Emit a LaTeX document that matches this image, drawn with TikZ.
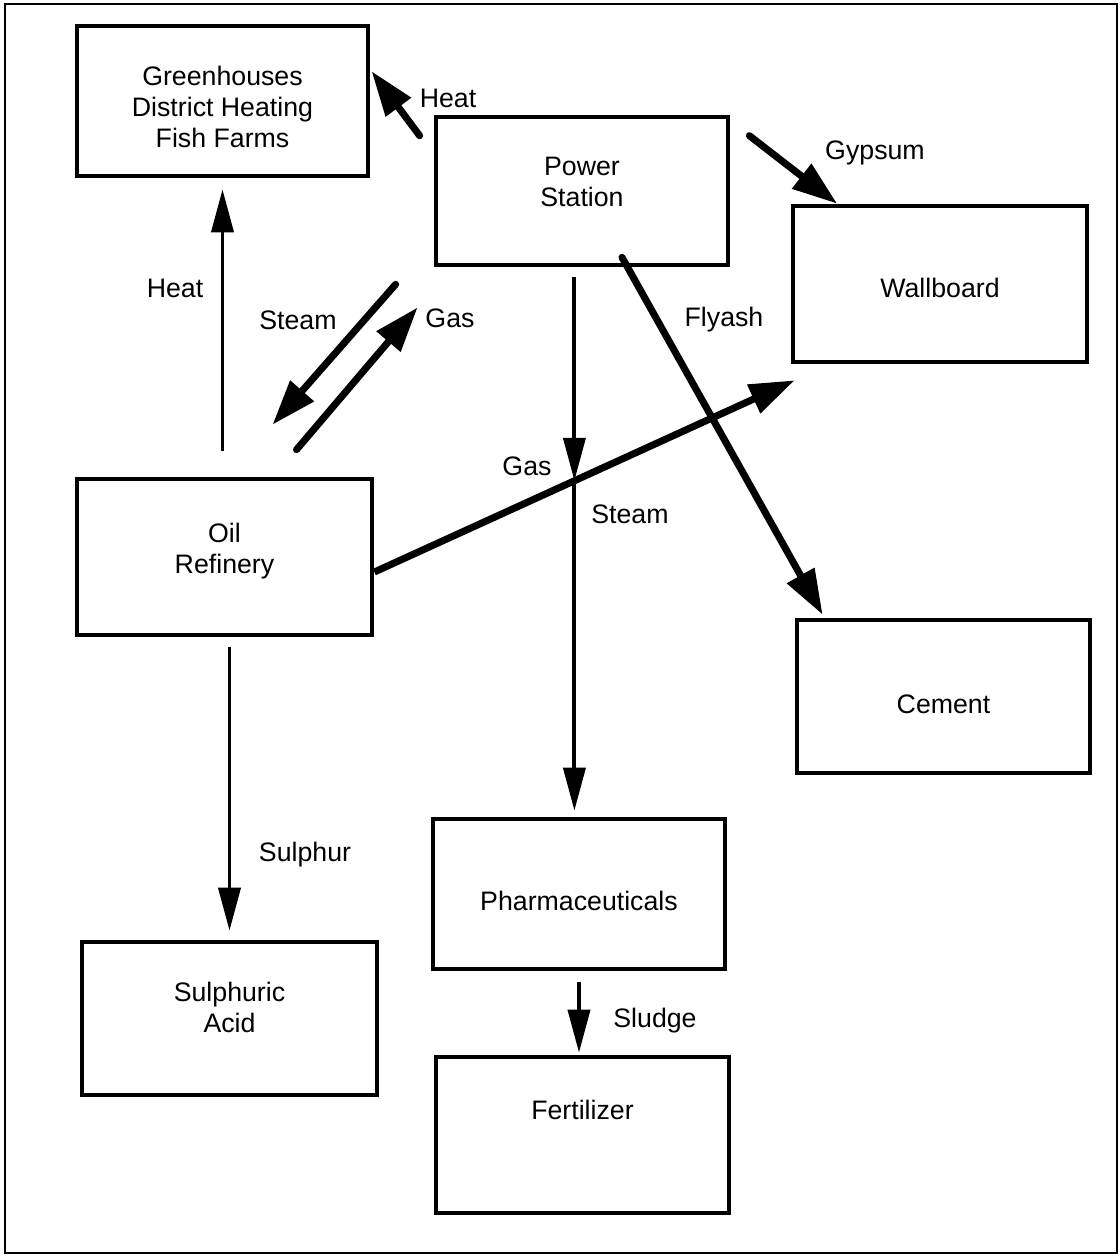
\documentclass[tikz,border=0pt]{standalone}
\usepackage{fontspec}
\setmainfont{Liberation Sans}
\usetikzlibrary{arrows.meta,calc}
\newcommand{\boxtext}[2]{\raisebox{#1}[\height][\depth]{\begin{tabular}{@{}c@{}}#2\end{tabular}}}
\begin{document}
\begin{tikzpicture}[x=0.01cm,y=-0.01cm,
  every node/.style={font=\fontsize{7.6}{8.8}\selectfont},
  unit/.style={draw,line width=1.3pt,minimum width=2.93cm,minimum height=1.53cm,align=center,inner sep=0pt},
  flow/.style={line width=1.1pt,-{Triangle[length=0.43cm,width=0.22cm]}},
  bigflow/.style={line width=2pt,line cap=round,-{Triangle[length=0.45cm,width=0.3cm]}}]
\useasboundingbox (0,0) rectangle (1120,1256);
\draw[line width=0.7pt] (5,4) rectangle (1117,1253);
% the plants
\node[unit,minimum width=2.91cm,minimum height=1.5cm] (green) at (222.5,101) {\boxtext{-0.09cm}{Greenhouses\\District Heating\\Fish Farms}};
\node[unit,minimum width=2.92cm,minimum height=1.48cm] (power) at (582,191) {\boxtext{0.065cm}{Power\\Station}};
\node[unit,minimum width=2.94cm,minimum height=1.56cm] (wall) at (940,284) {\boxtext{-0.07cm}{Wallboard}};
\node[unit,minimum width=2.95cm,minimum height=1.56cm] (oil) at (224.5,557) {\boxtext{0.055cm}{Oil\\Refinery}};
\node[unit,minimum width=2.93cm] (cement) at (943.5,696.5) {\boxtext{-0.11cm}{Cement}};
\node[unit,minimum width=2.95cm,minimum height=1.53cm] (acid) at (229.5,1018.5) {\boxtext{0.08cm}{Sulphuric\\Acid}};
\node[unit,minimum width=2.92cm,minimum height=1.5cm] (pharma) at (579,894) {\boxtext{-0.1cm}{Pharmaceuticals}};
\node[unit,minimum height=1.56cm] (fert) at (582.5,1135) {\boxtext{0.22cm}{Fertilizer}};
% flows
\draw[flow,shorten <=0.26cm,shorten >=0.11cm] (green.south |- oil.north) -- (green.south);
\draw[bigflow,shorten >=0.02cm] ($(power.north west)+(-14,21)$) -- (green.12);
\draw[bigflow] ($(power.north east)+(19,21)$) -- (wall.142);
\draw[bigflow] ($(power.south west)+(-38,17)$) -- ($(oil.north)+(48,-52)$);
\draw[bigflow] ($(oil.north)+(72,-27)$) -- ($(power.south west)+(-16,40)$);
\draw[bigflow,line cap=butt] ($(oil.east)+(0,15)$) -- coordinate[pos=0.476] (cross) ($(wall.south west)+(4,16)$);
\draw[flow,shorten <=0.1cm] (power.south -| cross) -- (cross);
\draw[flow,shorten >=0.06cm] (cross) -- (cross |- pharma.north);
\draw[bigflow] ($(power.south)+(40,-10)$) -- ($(cement.north west)+(28,-3)$);
\draw[flow,shorten <=0.1cm,shorten >=0.09cm] (acid.north |- oil.south) -- (acid.north);
\draw[flow,shorten <=0.11cm,shorten >=0.02cm] (pharma.south) -- (pharma.south |- fert.north);
% labels
\node (heatA) at (175,288) {Heat};
\node (heatB) at (448,98) {Heat};
\node (gypsum) at (875,153) {Gypsum};
\node (steamA) at (298,320) {Steam};
\node (gasA) at (450,318) {Gas};
\node (flyash) at (724,320) {Flyash};
\node (gasB) at (527,466) {Gas};
\node (steamB) at (630,514) {Steam};
\node (sulphur) at (305,855) {Sulphur};
\node (sludge) at (655,1021) {Sludge};
\end{tikzpicture}
\end{document}
